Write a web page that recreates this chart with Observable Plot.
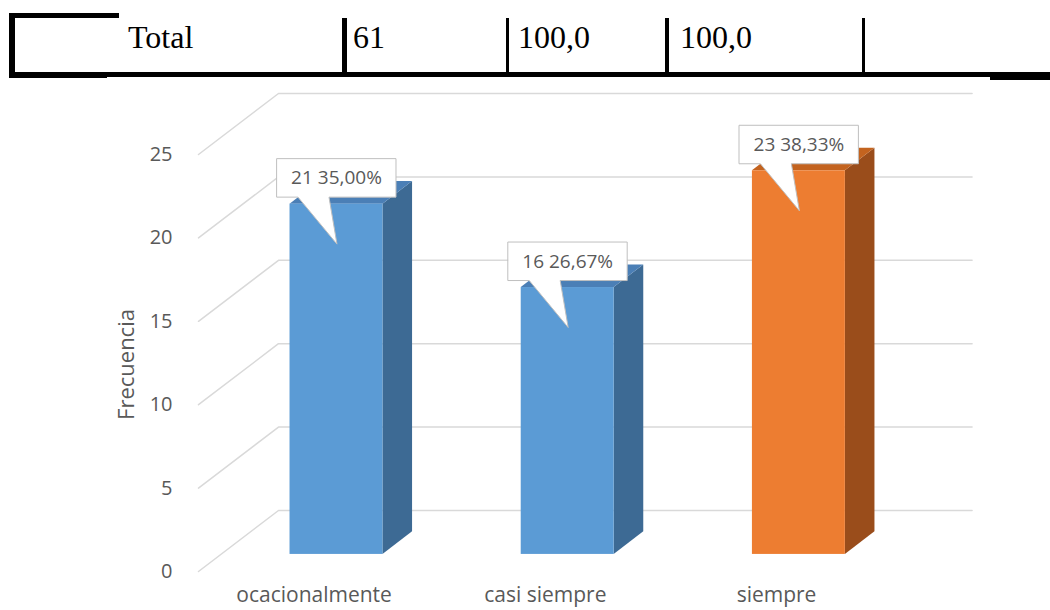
<!DOCTYPE html>
<html>
<head>
<meta charset="utf-8">
<script src="https://cdn.jsdelivr.net/npm/d3@7"></script>
<script src="https://cdn.jsdelivr.net/npm/@observablehq/plot@0.6"></script>
<style>
  html, body { margin: 0; padding: 0; background: #fff; width: 1050px; height: 610px; overflow: hidden; position: relative; }
  #table { position: absolute; left: 0; top: 0; }
  #chart { position: absolute; left: 0; top: 80px; }
</style>
</head>
<body>
<svg id="table" width="1050" height="82" xmlns="http://www.w3.org/2000/svg"></svg>
<div id="chart"></div>
<script>
// ---- data ----
const categories = ["ocacionalmente", "casi siempre", "siempre"];
const frecuencias = [21, 16, 23];
const porcentajes = [35.00, 26.67, 38.33];
const yTicks = [0, 5, 10, 15, 20, 25];
const tableCells = ["Total", "61", "100,0", "100,0"];

// ---- table row (above the chart) ----
const tsvg = d3.select("#table");
const rects = [
  [9, 13, 110, 5], [9, 13, 6, 65], [9, 72, 1041, 5], [9, 72, 98, 6], [990, 77, 60, 3],
  [342, 18, 5, 55], [506, 18, 3, 55], [665, 18, 4, 55], [862, 18, 3, 55]
];
tsvg.selectAll("rect").data(rects).join("rect")
  .attr("x", d => d[0]).attr("y", d => d[1]).attr("width", d => d[2]).attr("height", d => d[3])
  .attr("fill", "#000");
const cellX = [128, 353, 518, 680];
tsvg.selectAll("text").data(tableCells).join("text")
  .attr("x", (d, i) => cellX[i]).attr("y", 48)
  .attr("font-family", "'Liberation Serif', 'Times New Roman', serif")
  .attr("font-size", 32).attr("fill", "#000").text(d => d);

// ---- 3D projection helpers (in data units) ----
const DX = 80 / 231.25;   // full floor depth, x data units
const DY = 61 / 16.68;    // full floor depth, y data units
const DF = 0.28, DB = 0.65, HW = 0.201;
const palette = {
  "ocacionalmente": { front: "#5B9BD5", side: "#3D6A94", top: "#4B7FB6" },
  "casi siempre":   { front: "#5B9BD5", side: "#3D6A94", top: "#4B7FB6" },
  "siempre":        { front: "#ED7D31", side: "#9A4D1B", top: "#C3631F" }
};
const fmtPct = p => p.toFixed(2).replace(".", ",") + "%";

const bars = categories.map((c, i) => ({ i, c, v: frecuencias[i], p: porcentajes[i], ...palette[c] }));
const frontFaces = bars.map(b => ({
  x1: b.i - HW + DX * DF, x2: b.i + HW + DX * DF, y1: DY * DF, y2: b.v + DY * DF, fill: b.front
}));
const sideFaces = bars.flatMap(b => [DF, DB].map(d => ({
  z: b.i, x: b.i + HW + DX * d, y1: DY * d, y2: b.v + DY * d, fill: b.side
})));
const topFaces = bars.flatMap(b => [DF, DB].map(d => ({
  z: b.i, y: b.v + DY * d, x1: b.i - HW + DX * d, x2: b.i + HW + DX * d, fill: b.top
})));
const grid = yTicks.flatMap(t => [[-0.5, t], [-0.5 + DX, t + DY], [2.5 + DX, t + DY]].map(([x, y]) => ({ t, x, y })));

const callout = {
  draw(ctx) {
    ctx.moveTo(-59.5, -45.5);
    ctx.lineTo(59.5, -45.5);
    ctx.lineTo(59.5, -7);
    ctx.lineTo(-7.5, -7);
    ctx.lineTo(0.5, 40);
    ctx.lineTo(-38.5, -7);
    ctx.lineTo(-59.5, -7);
    ctx.closePath();
  }
};

const chart = Plot.plot({
  width: 1050,
  height: 530,
  marginLeft: 198,
  marginRight: 158.4,
  marginTop: 0,
  marginBottom: 0,
  x: { type: "linear", domain: [-0.5, 2.5], axis: null },
  y: { domain: [0, 25], range: [491, 74] },
  color: { type: "identity" },
  style: { fontFamily: "'Open Sans', sans-serif", fontSize: "20px", color: "#595959", background: "transparent", overflow: "visible" },
  marks: [
    Plot.line(grid, { x: "x", y: "y", z: "t", stroke: "#D9D9D9", strokeWidth: 1.5 }),
    Plot.axisY(yTicks, { anchor: "left", tickSize: 0, tickPadding: 26, label: null, fill: "#595959", fontSize: 20 }),
    Plot.text(["Frecuencia"], { frameAnchor: "left", textAnchor: "middle", rotate: -90, dx: -72, dy: 19, fontSize: 22, fill: "#595959" }),
    Plot.areaY(sideFaces, { x: "x", y1: "y1", y2: "y2", z: "z", fill: "fill" }),
    Plot.areaX(topFaces, { y: "y", x1: "x1", x2: "x2", z: "z", fill: "fill" }),
    Plot.rect(frontFaces, { x1: "x1", x2: "x2", y1: "y1", y2: "y2", fill: "fill" }),
    Plot.text(bars, { x: "i", y: d => 0, text: "c", dy: 24, fontSize: 21, fill: "#595959" }),
    Plot.vector(bars, { x: d => d.i + DX * DF, y: d => d.v + DY * DF, length: 1, rotate: 0, anchor: "start",
      shape: callout, fill: "white", stroke: "#BFBFBF", strokeWidth: 1 }),
    Plot.text(bars, { x: d => d.i + DX * DF, y: d => d.v + DY * DF, text: d => `${d.v} ${fmtPct(d.p)}`,
      dy: -26, fontSize: 19, fill: "#595959" })
  ]
});
document.getElementById("chart").appendChild(chart);
</script>
</body>
</html>
